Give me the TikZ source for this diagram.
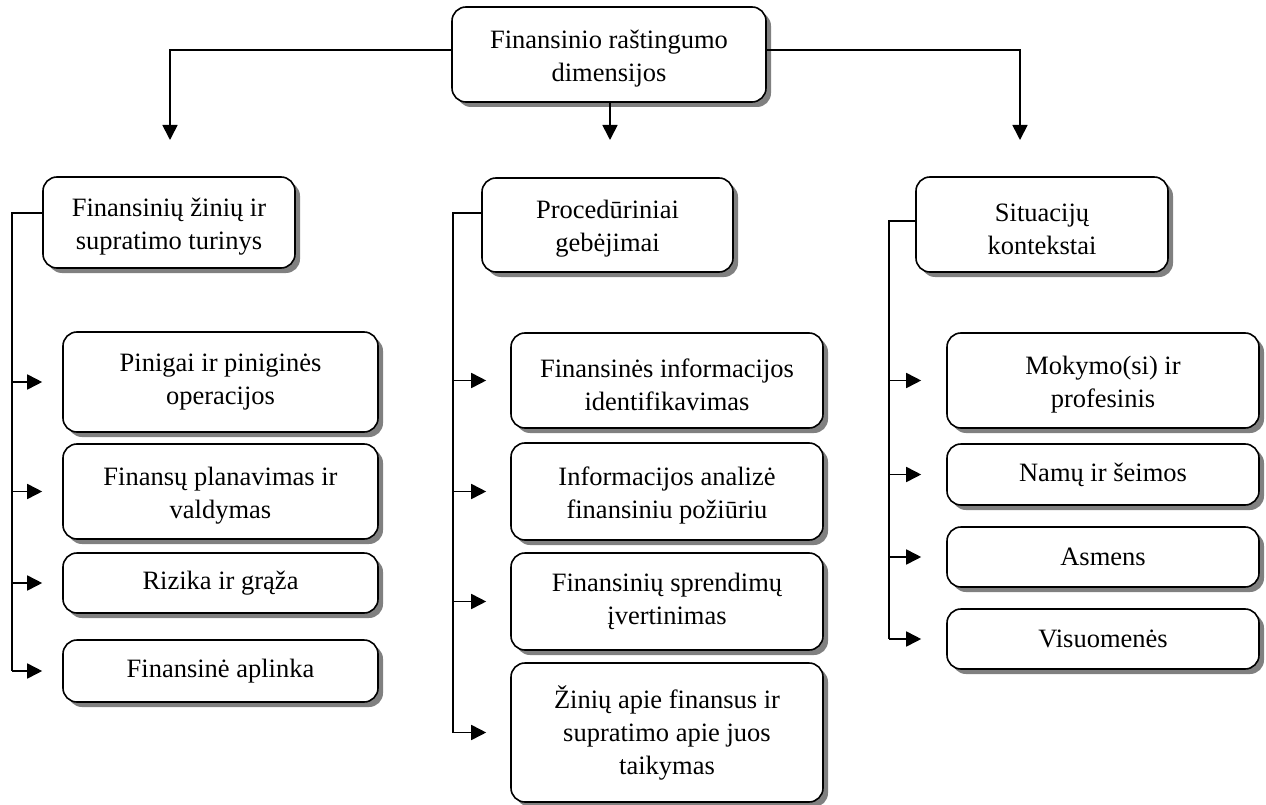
\documentclass[tikz,border=0pt]{standalone}
\usepackage{fontspec}
\setmainfont{Liberation Serif}
\usetikzlibrary{arrows.meta,shadows}

% taller first line: sets a two-line label a little lower in its box
\newcommand\liftline{\rule{0pt}{26.5pt}}

\begin{document}
\begin{tikzpicture}[x=1pt,y=-1pt,
  box/.style={draw, line width=1.6pt, rounded corners=14pt, fill=white,
    align=center, inner sep=0pt, font=\fontsize{26.5}{33}\selectfont,
    drop shadow={shadow xshift=5pt, shadow yshift=-5pt, fill=black!50, opacity=1}},
  link/.style={line width=1.7pt},
  arr/.style={line width=1.7pt, -{Triangle[length=15pt,width=15pt]}}
]
\useasboundingbox (0,0) rectangle (1266,805);

% root
\node[box, minimum width=314pt, minimum height=95pt] (root) at (609,54.5)
  {\liftline Finansinio raštingumo\\dimensijos};

% second level
\node[box, minimum width=252pt, minimum height=91pt] (know) at (169,222.5)
  {\liftline Finansinių žinių ir\\supratimo turinys};
\node[box, minimum width=251pt, minimum height=94pt] (proc) at (607.5,225)
  {\liftline Procedūriniai\\gebėjimai};
\node[box, minimum width=252pt, minimum height=95pt] (sit) at (1042,224.5)
  {\liftline Situacijų\\kontekstai};

% content items
\node[box, minimum width=315pt, minimum height=100pt] (k1) at (220.5,382)
  {Pinigai ir piniginės\\operacijos};
\node[box, minimum width=315pt, minimum height=95pt] (k2) at (220.5,491.5)
  {\liftline Finansų planavimas ir\\valdymas};
\node[box, minimum width=315pt, minimum height=60pt] (k3) at (220.5,583)
  {Rizika ir grąža};
\node[box, minimum width=315pt, minimum height=62pt] (k4) at (220.5,671)
  {Finansinė aplinka};

% procedural items
\node[box, minimum width=312pt, minimum height=95pt] (p1) at (667,380.5)
  {\liftline Finansinės informacijos\\identifikavimas};
\node[box, minimum width=312pt, minimum height=97pt] (p2) at (667,491.5)
  {\liftline Informacijos analizė\\finansiniu požiūriu};
\node[box, minimum width=312pt, minimum height=97pt] (p3) at (667,601.5)
  {Finansinių sprendimų\\įvertinimas};
\node[box, minimum width=312pt, minimum height=139pt] (p4) at (667,732.5)
  {Žinių apie finansus ir\\supratimo apie juos\\taikymas};

% context items
\node[box, minimum width=312pt, minimum height=95pt] (s1) at (1103,380.5)
  {\liftline Mokymo(si) ir\\profesinis};
\node[box, minimum width=312pt, minimum height=61pt] (s2) at (1103,474.5)
  {Namų ir šeimos};
\node[box, minimum width=312pt, minimum height=60pt] (s3) at (1103,557)
  {Asmens};
\node[box, minimum width=312pt, minimum height=60pt] (s4) at (1103,639)
  {Visuomenės};

% arrows from the root
\coordinate (tipL) at (170,140);
\coordinate (tipM) at (610,140);
\coordinate (tipR) at (1020,140);
\draw[arr] ([yshift=4.5pt]root.west) -| (tipL);
\draw[arr] (root.south -| tipM) -- (tipM);
\draw[arr] ([yshift=4.5pt]root.east) -| (tipR);

% bus lines
\coordinate (busK) at (12,0);
\coordinate (busP) at (453,0);
\coordinate (busS) at (889,0);
\draw[link] ([yshift=9.5pt]know.west) -| (busK |- k4.west);
\draw[link] ([yshift=12pt]proc.west) -| (busP |- p4.west);
\draw[link] ([yshift=3.5pt]sit.west) -| (busS |- s4.west);

\foreach \n in {k1,k2,k3,k4}
  \draw[arr] (busK |- \n.west) -- ([xshift=-20pt]\n.west);
\foreach \n in {p1,p2,p3,p4}
  \draw[arr] (busP |- \n.west) -- ([xshift=-24pt]\n.west);
\foreach \n in {s1,s2,s3,s4}
  \draw[arr] (busS |- \n.west) -- ([xshift=-25pt]\n.west);
\end{tikzpicture}
\end{document}
